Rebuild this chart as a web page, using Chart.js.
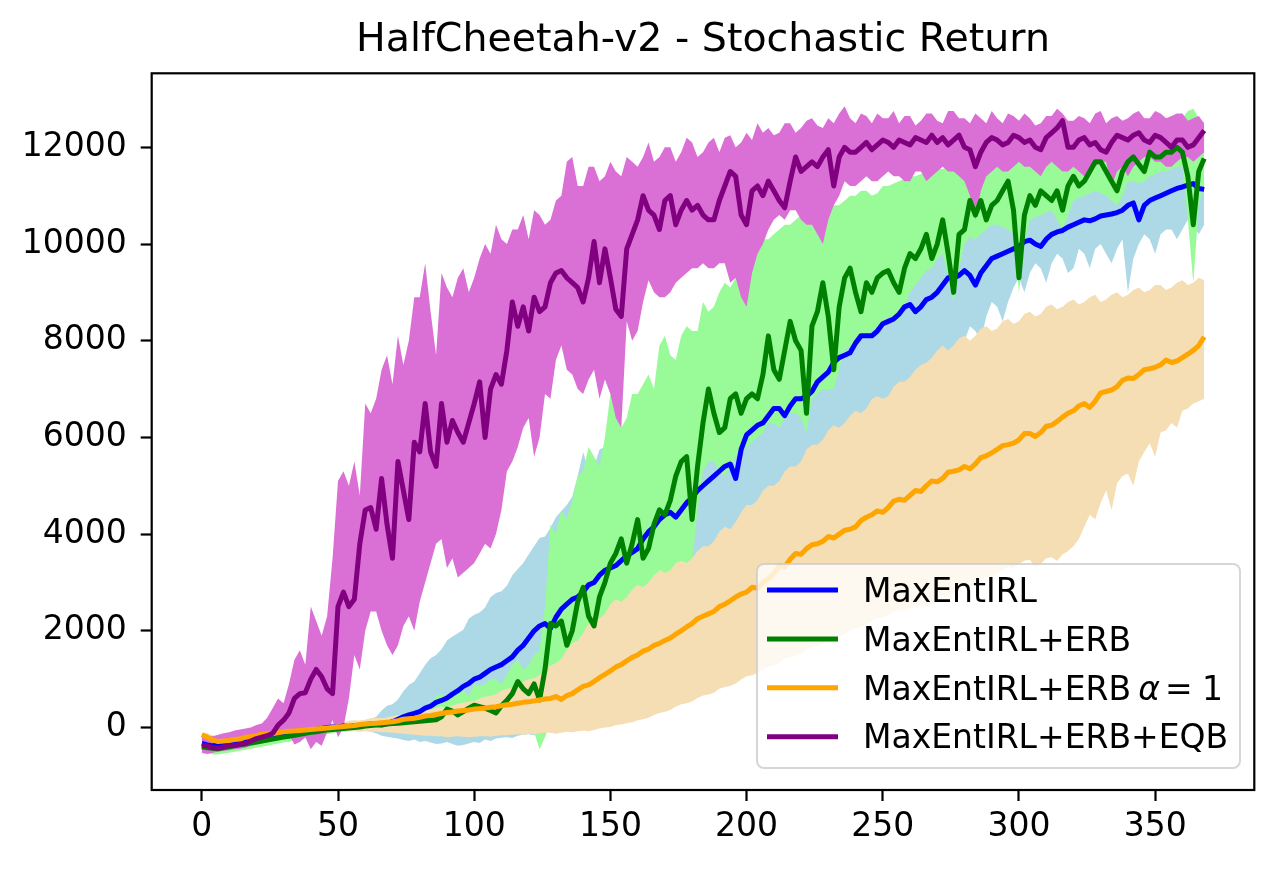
<!DOCTYPE html>
<html>
<head>
<meta charset="utf-8">
<script src="https://cdn.jsdelivr.net/npm/chart.js@4.4.0/dist/chart.umd.min.js"></script>
<style>
html,body{margin:0;padding:0;background:#fff;}
canvas{display:block;}
</style>
</head>
<body>
<canvas id="c" width="1280" height="870" style="width:1280px;height:870px"></canvas>
<script>
// ---------------- data ----------------
const chartTitle = 'HalfCheetah-v2 - Stochastic Return';
const seriesNames = ['MaxEntIRL', 'MaxEntIRL+ERB', 'MaxEntIRL+ERB α = 1', 'MaxEntIRL+ERB+EQB'];
const xTicks = [0, 50, 100, 150, 200, 250, 300, 350];
const yTicks = [0, 2000, 4000, 6000, 8000, 10000, 12000];

const steps = [
  0,2,4,6,8,10,12,14,16,18,20,22,24,26,28,30,32,34,36,38,
  40,42,44,46,48,50,52,54,56,58,60,62,64,66,68,70,72,74,76,78,
  80,82,84,86,88,90,92,94,96,98,100,102,104,106,108,110,112,114,116,118,
  120,122,124,126,128,130,132,134,136,138,140,142,144,146,148,150,152,154,156,158,
  160,162,164,166,168,170,172,174,176,178,180,182,184,186,188,190,192,194,196,198,
  200,202,204,206,208,210,212,214,216,218,220,222,224,226,228,230,232,234,236,238,
  240,242,244,246,248,250,252,254,256,258,260,262,264,266,268,270,272,274,276,278,
  280,282,284,286,288,290,292,294,296,298,300,302,304,306,308,310,312,314,316,318,
  320,322,324,326,328,330,332,334,336,338,340,342,344,346,348,350,352,354,356,358,
  360,362,364,366,368];

// MaxEntIRL (blue)
const blueMean = [
  -330,-360,-380,-350,-360,-330,-320,-310,-290,-260,-250,-240,-210,-200,-170,-140,-130,-120,-90,-80,
  -50,-40,-20,0,10,0,30,20,40,30,60,70,60,50,80,120,170,220,260,290,
  330,400,440,520,560,610,690,760,850,910,1000,1040,1120,1200,1250,1300,1380,1460,1600,1700,
  1850,2000,2100,2150,2050,2280,2450,2550,2650,2700,2800,2950,3000,3150,3250,3300,3350,3450,3550,3620,
  3700,3900,4050,4150,4300,4400,4450,4350,4500,4650,4750,4900,5000,5100,5200,5300,5400,5450,5150,5750,
  6050,6150,6250,6300,6450,6600,6600,6450,6650,6800,6800,6850,6950,7150,7250,7350,7550,7650,7700,7750,
  7950,8100,8100,8100,8200,8350,8400,8450,8550,8700,8750,8600,8700,8850,8900,9000,9150,9300,9300,9350,
  9450,9350,9150,9400,9550,9700,9750,9800,9850,9900,9950,10050,10080,10000,9950,10100,10200,10250,10280,10350,
  10400,10450,10500,10480,10520,10580,10600,10620,10650,10700,10800,10850,10500,10800,10900,10950,11000,11050,11100,11150,
  11180,11220,11250,11150,11130];
const blueUpper = [
  -230,-250,-280,-260,-270,-250,-240,-220,-210,-180,-170,-150,-130,-110,-100,-70,-60,-40,-30,-10,
  0,20,30,50,60,80,90,110,120,140,150,180,220,350,450,480,580,750,880,950,
  1120,1300,1430,1500,1620,1800,1880,1950,2020,2250,2330,2380,2480,2700,2780,2820,2930,3150,3280,3400,
  3580,3750,3920,3950,4130,4350,4480,4600,4780,5200,5700,5300,5400,5750,5800,5600,5900,5850,6000,6150,
  6300,6400,6500,6650,6800,6900,7000,7150,7300,7400,7500,7650,7800,7900,8000,8150,8300,8400,8500,8600,
  8700,8850,9000,9100,9200,9300,9400,9500,9600,9700,9800,9850,9900,10000,10100,10200,10300,10350,10400,10500,
  10600,10650,10700,10750,10800,10850,10900,10950,11000,11050,11100,11150,11200,11250,11300,11350,11400,11450,11500,11520,
  11550,11580,11600,11620,11650,11680,11700,11720,11750,11780,11800,11820,11850,11850,11850,11880,11900,11920,11950,11980,
  12000,12000,12000,12020,12050,12080,12100,12100,12100,12120,12150,12150,12150,12180,12200,12200,12200,12220,12250,12250,
  12250,12280,12300,12280,12250];
const blueLower = [
  -450,-480,-500,-470,-480,-450,-440,-420,-400,-380,-360,-340,-310,-300,-270,-250,-230,-210,-190,-170,
  -150,-130,-110,-90,-80,-60,-50,-40,-30,-40,-60,-90,-120,-170,-190,-210,-230,-260,-280,-250,
  -300,-280,-310,-340,-330,-300,-340,-380,-360,-330,-300,-320,-250,-280,-230,-210,-200,-220,-170,-150,
  -140,-160,-100,-50,0,150,300,450,600,750,900,1050,1200,1350,1500,1650,1800,1900,2000,2100,
  2200,2300,2400,2500,2600,2700,2800,2850,2900,2950,3000,3100,3200,3300,3400,3500,3600,3700,3800,3900,
  4000,4100,4200,4300,4400,4500,4600,4700,4800,4900,5000,5100,5200,5300,5400,5500,5600,5700,5800,5900,
  6000,6100,6200,6300,6400,6500,6600,6700,6800,6900,7000,7100,7200,7300,7400,7500,7600,7700,7800,7900,
  8000,8300,8200,8000,8500,8800,8700,8400,8800,9100,9300,9000,9400,9600,9500,9200,9600,9800,9700,9400,
  9500,9900,9800,9500,9900,10000,9800,9600,9900,10100,9000,9700,10000,10200,10100,9800,10200,10300,10300,10100,
  10300,10500,10400,10200,10400];

// MaxEntIRL+ERB (green)
const greenMean = [
  -400,-420,-430,-440,-420,-400,-380,-360,-340,-320,-300,-280,-260,-240,-220,-200,-180,-160,-140,-120,
  -100,-90,-70,-50,-40,-30,-20,-10,0,10,30,40,50,60,70,80,90,100,110,120,
  130,140,150,160,220,380,340,260,330,400,460,430,400,350,300,450,560,700,950,800,
  700,900,570,1200,2150,2100,2200,1700,2000,2600,2900,2300,2100,2700,3000,3400,3600,3900,3400,3800,
  4300,3500,3700,4200,4500,4400,4700,5200,5500,5600,4300,5400,6300,7000,6500,6100,6200,6800,6900,6500,
  6800,6900,6800,7300,8100,7400,7200,7800,8400,8000,7800,6500,8300,8600,9200,8500,7400,8700,9300,9500,
  9000,8600,9200,9000,9300,9400,9450,9200,9000,9500,9800,9700,9900,10200,9700,10000,10500,9800,9000,10200,
  10300,10900,10600,10900,10500,10800,10900,11100,11300,10700,9300,10600,11000,10800,11100,11000,10900,11100,10700,11200,
  11400,11200,11300,11500,11700,11700,11500,11300,11100,11500,11700,11800,11650,11500,11900,11800,11800,11900,11900,12000,
  11900,11400,10400,11500,11770];
const greenUpper = [
  -300,-330,-350,-340,-330,-310,-300,-280,-270,-250,-230,-210,-190,-170,-150,-130,-110,-90,-70,-50,
  -30,-10,0,20,30,50,60,70,80,100,110,130,140,160,170,190,200,230,250,300,
  350,450,500,650,700,600,750,800,800,650,900,850,900,1000,1000,900,1100,1300,1400,1200,
  1300,1500,1600,2500,4200,4000,4500,4300,4700,5200,5300,5800,5600,5400,6000,6900,6700,6200,6400,6900,
  6900,7100,7300,7000,7900,8100,7700,7600,8100,8300,8200,8200,8800,8600,8700,9000,9200,9100,9300,9600,
  9700,9800,9900,10100,10100,10200,10300,10400,10400,10500,10600,10500,10500,10700,10700,10800,10800,10800,10900,11000,
  11000,11100,11100,11000,11050,11200,11200,11250,11300,11350,11400,11400,11450,11500,11500,11550,11550,11600,11600,11650,
  11700,11650,11650,11700,11750,11800,11800,11800,11850,11900,11900,11950,11950,11900,11900,11950,12000,12000,12050,12100,
  12100,12150,12150,12200,12200,12250,12250,12200,12200,12250,12300,12300,12350,12400,12400,12450,12450,12500,12500,12550,
  12600,12750,12800,12600,12400];
const greenLower = [
  -500,-530,-560,-560,-540,-520,-500,-480,-460,-440,-420,-400,-380,-350,-330,-310,-290,-270,-250,-220,
  -200,-180,-160,-140,-120,-100,-90,-80,-60,-50,-40,-30,-20,-10,0,10,20,30,40,50,
  60,70,80,90,100,110,120,130,150,160,170,160,150,170,200,220,250,280,300,250,
  200,-100,-450,-200,100,250,400,550,700,850,1000,1200,1400,1550,1700,1850,2000,2150,2300,2450,
  2600,2700,2800,2900,3000,3100,3200,3250,3300,3350,3400,4500,5300,5500,5500,5300,5200,5400,5600,5700,
  5800,5900,6000,6100,6300,6300,6200,6400,6500,6500,6400,6100,6800,6900,7000,7000,7000,7400,7800,7900,
  8000,8050,8100,8200,8300,8400,8500,8450,8400,8700,9000,9150,9300,9450,9500,9700,9800,9300,8800,9500,
  10000,10150,10100,10200,10300,10400,10400,10350,10300,10200,9000,10000,10500,10550,10600,10650,10700,10500,10300,10600,
  10900,10950,11000,11050,11100,11050,11000,10900,10800,11000,11300,11300,11250,11300,11400,11450,11500,11500,11550,11600,
  11600,10500,9200,10800,11300];

// MaxEntIRL+ERB alpha=1 (orange)
const orangeMean = [
  -150,-200,-260,-290,-280,-270,-250,-240,-200,-190,-170,-140,-130,-130,-110,-90,-80,-70,-60,-50,
  -40,-30,-20,-10,0,10,20,30,40,60,70,80,90,100,110,120,140,170,180,190,
  210,240,250,270,290,310,320,340,350,360,380,390,400,420,430,450,470,480,500,520,
  530,550,570,590,600,640,580,660,700,780,850,880,950,1030,1100,1170,1250,1300,1380,1450,
  1500,1580,1620,1700,1740,1800,1850,1930,2000,2080,2150,2250,2300,2350,2400,2500,2550,2620,2700,2760,
  2800,2900,2880,3000,3080,3180,3350,3320,3480,3600,3580,3700,3780,3800,3850,3950,3920,4000,4080,4100,
  4150,4280,4350,4400,4480,4450,4550,4680,4720,4700,4800,4900,4880,5000,5100,5080,5150,5280,5300,5330,
  5400,5350,5450,5580,5620,5680,5750,5830,5850,5880,5950,6080,6080,6020,6100,6230,6250,6330,6420,6500,
  6550,6650,6700,6620,6750,6920,6950,6980,7050,7180,7230,7220,7300,7400,7420,7450,7500,7600,7550,7580,
  7650,7720,7800,7900,8080];
const orangeUpper = [
  -100,-120,-160,-190,-170,-160,-150,-130,-100,-110,-80,-50,-30,-40,-20,0,30,20,40,60,
  70,60,70,100,110,100,110,140,150,140,160,190,200,190,210,240,260,250,280,310,
  340,350,370,410,430,420,450,490,510,530,550,600,640,650,690,760,800,820,860,950,
  1000,1020,1080,1200,1280,1330,1420,1600,1750,1800,1950,2150,2250,2250,2350,2550,2650,2600,2700,2850,
  2950,2900,3000,3150,3250,3200,3250,3400,3450,3400,3500,3650,3750,3750,3850,4050,4150,4100,4250,4450,
  4600,4600,4700,4900,5000,5000,5100,5300,5400,5400,5500,5750,5850,5850,5950,6150,6250,6200,6300,6450,
  6550,6500,6600,6800,6850,6800,6850,7050,7150,7150,7250,7400,7500,7550,7650,7800,7900,7800,7900,8050,
  8100,8000,8100,8250,8300,8200,8250,8400,8450,8350,8400,8550,8600,8500,8550,8700,8750,8650,8700,8800,
  8850,8750,8800,8900,8950,8800,8850,8950,9000,8900,8950,9050,9100,9000,9050,9150,9150,9050,9100,9200,
  9250,9150,9200,9300,9250];
const orangeLower = [
  -350,-380,-400,-420,-400,-390,-370,-350,-330,-310,-290,-270,-250,-240,-220,-200,-190,-170,-160,-150,
  -140,-130,-120,-110,-100,-100,-90,-80,-80,-90,-80,-90,-90,-100,-100,-110,-120,-130,-140,-150,
  -160,-170,-170,-180,-180,-200,-190,-180,-190,-200,-190,-180,-180,-190,-170,-160,-160,-150,-140,-150,
  -130,-140,-120,-110,-110,-130,-110,-90,-100,-80,-70,-80,-50,-20,0,10,50,60,90,110,
  150,170,200,260,300,320,360,430,480,500,540,610,660,680,720,800,840,860,910,990,
  1060,1080,1130,1210,1260,1280,1330,1420,1460,1480,1530,1620,1660,1680,1730,1820,1860,1880,1930,2010,
  2060,2080,2130,2210,2260,2280,2330,2400,2430,2400,2460,2510,2520,2490,2580,2660,2720,2700,2780,2860,
  2920,2900,2980,3060,3120,3100,3180,3260,3320,3300,3380,3450,3470,3300,3380,3500,3520,3450,3580,3650,
  3750,3900,4150,4400,4300,4650,4900,4500,5050,5200,5250,5000,5500,5700,5880,5600,6100,6150,6300,6200,
  6550,6600,6700,6750,6800];

// MaxEntIRL+ERB+EQB (purple)
const purpleMean = [
  -370,-380,-420,-430,-400,-380,-370,-350,-330,-280,-230,-200,-170,-120,50,150,300,600,700,720,
  1000,1200,1050,800,700,2500,2800,2500,2650,3800,4500,4550,4100,5150,4200,3500,5500,4900,4300,5900,
  5700,6700,5700,5400,6700,5900,6350,6100,5900,6300,6700,7150,6000,7000,7300,7100,7800,8800,8300,8700,
  8200,8900,8600,8700,9200,9400,9450,9300,9200,9100,8800,9300,10050,9200,9900,9300,8650,8500,9900,10200,
  10500,11000,10700,10600,10300,10900,11000,10400,10700,10900,10700,10800,10600,10500,10500,10900,11200,11500,11400,10600,
  10400,11100,11200,11000,11300,11100,10900,10750,11300,11800,11500,11600,11700,11600,11800,11950,11200,11800,12000,11900,
  11900,12000,12100,11950,12050,12150,12100,12000,12150,12100,12050,12200,12150,12100,12250,12100,12200,12050,12150,12250,
  12000,11950,11600,11900,12100,12200,12150,12050,12100,12250,12200,12100,12150,12000,11950,12200,12300,12400,12550,12000,
  12000,12150,12200,12050,12100,11950,11900,12100,12250,12200,12150,12250,12300,12150,12100,12250,12200,12100,12000,12150,
  12150,12000,12050,12200,12350];
const purpleUpper = [
  -200,-170,-180,-150,-120,-100,-60,-40,-20,0,50,80,200,400,600,500,900,1400,1600,1300,
  2500,2200,1900,2300,3500,5100,5300,5000,5500,4800,6700,6500,6800,7400,7700,7100,8100,7500,8000,8900,
  8900,9600,8600,7700,9400,9100,8900,9300,9500,9000,9300,9700,10000,9800,10400,10100,10000,10300,10300,10600,
  10100,10700,10600,10400,10500,10900,11000,11700,11800,11200,11200,11600,11600,11300,11400,11700,11500,11400,11800,11700,
  11600,11800,12100,11700,11800,12000,12000,11700,11900,12200,12100,11800,11900,12100,12200,11900,12200,12250,12000,12100,
  12300,12150,12500,12300,12400,12250,12300,12500,12500,12300,12400,12550,12600,12450,12400,12600,12500,12700,12850,12600,
  12500,12700,12650,12500,12700,12600,12600,12750,12500,12650,12650,12450,12550,12700,12700,12550,12500,12750,12750,12600,
  12600,12500,12700,12600,12500,12750,12600,12500,12700,12650,12550,12700,12600,12450,12500,12650,12650,12800,12700,12550,
  12550,12650,12600,12500,12700,12750,12500,12600,12650,12550,12600,12700,12750,12600,12600,12750,12700,12600,12650,12700,
  12700,12550,12600,12650,12500];
const purpleLower = [
  -530,-550,-520,-500,-480,-470,-450,-440,-420,-380,-350,-330,-300,-250,-200,-180,-150,-350,-300,-200,
  -450,-300,-380,-100,150,-200,0,600,1500,1200,2000,2400,2400,2000,1700,1500,1700,2100,2300,2000,
  2600,3000,3400,3800,3900,3300,3500,3100,3200,3300,3400,3600,3800,3700,4000,4500,5300,5500,5800,6200,
  6400,5600,6000,6900,6800,7600,7900,7400,7300,7000,6900,7200,7400,6800,7200,6900,6400,6200,8400,8000,
  8200,8800,9250,9000,8900,8900,9000,9200,9300,9400,9500,9500,9600,9500,9500,9600,9600,9200,9300,8900,
  8700,9400,9800,10000,10300,10500,10600,10500,10700,10700,10500,10400,10400,10200,10000,10500,10800,11000,11300,11200,
  11200,11300,11400,11300,11300,11400,11500,11400,11400,11300,11300,11500,11500,11300,11400,11500,11600,11500,11500,11400,
  11300,11000,10500,11100,11400,11500,11600,11500,11500,11600,11700,11600,11600,11500,11400,11600,11700,11600,11500,11500,
  11600,11500,11400,11500,11600,11700,11700,11200,11500,11600,11400,11600,11700,11800,11800,11700,11700,11600,11600,11700,
  11800,11800,11700,11800,11900];

// ---------------- styles ----------------
const FONT = 'DejaVu Sans';
const lineColors = ['#0000ff', '#008000', '#ffa500', '#800080'];
const bandColors = ['#add8e6', '#98fb98', '#f5deb3', '#da70d6'];
const LW = 5;

const pts = arr => steps.map((x, i) => ({x: x, y: arr[i]}));

const means = [blueMean, greenMean, orangeMean, purpleMean];
const uppers = [blueUpper, greenUpper, orangeUpper, purpleUpper];
const lowers = [blueLower, greenLower, orangeLower, purpleLower];

const datasets = [];
for (let s = 0; s < 4; s++) {
  const upIdx = datasets.length;
  datasets.push({
    data: pts(uppers[s]), fill: upIdx + 1, backgroundColor: bandColors[s],
    borderColor: 'rgba(0,0,0,0)', borderWidth: 1, pointRadius: 0, order: 20 - s
  });
  datasets.push({
    data: pts(lowers[s]), fill: false,
    borderColor: 'rgba(0,0,0,0)', borderWidth: 1, pointRadius: 0, order: 20 - s
  });
}
for (let s = 0; s < 4; s++) {
  datasets.push({
    label: seriesNames[s], data: pts(means[s]), fill: false,
    borderColor: lineColors[s], borderWidth: LW, pointRadius: 0,
    borderJoinStyle: 'round', borderCapStyle: 'butt', order: 3 - s
  });
}

const framePlugin = {
  id: 'frame',
  afterDatasetsDraw(chart) {
    const {ctx, chartArea: a} = chart;
    ctx.save();
    ctx.strokeStyle = '#000';
    ctx.lineWidth = 2.2;
    ctx.strokeRect(a.left, a.top, a.right - a.left, a.bottom - a.top);
    ctx.restore();
  }
};

const legendPlugin = {
  id: 'mplLegend',
  afterDraw(chart) {
    const {ctx, chartArea: a} = chart;
    const fs = 33;
    const right = a.right - 14.3, bottom = a.bottom - 22;
    const w = 483, h = 204;
    const left = right - w, top = bottom - h;
    const r = 7;
    ctx.save();
    ctx.beginPath();
    ctx.moveTo(left + r, top);
    ctx.arcTo(right, top, right, bottom, r);
    ctx.arcTo(right, bottom, left, bottom, r);
    ctx.arcTo(left, bottom, left, top, r);
    ctx.arcTo(left, top, right, top, r);
    ctx.closePath();
    ctx.fillStyle = 'rgba(255,255,255,0.8)';
    ctx.fill();
    ctx.strokeStyle = 'rgba(204,204,204,0.8)';
    ctx.lineWidth = 2;
    ctx.stroke();

    const rowH = 48.9;
    for (let i = 0; i < seriesNames.length; i++) {
      const y = top + 26 + i * rowH;
      ctx.beginPath();
      ctx.strokeStyle = lineColors[i];
      ctx.lineWidth = LW;
      ctx.lineCap = 'butt';
      ctx.moveTo(left + 10, y);
      ctx.lineTo(left + 81, y);
      ctx.stroke();

      ctx.fillStyle = '#000';
      ctx.textBaseline = 'alphabetic';
      ctx.textAlign = 'left';
      const tx = left + 106, ty = y + 11.7;
      const name = seriesNames[i];
      const ai = name.indexOf('α');
      ctx.font = fs + 'px "' + FONT + '"';
      if (ai < 0) {
        ctx.fillText(name, tx, ty);
      } else {
        const before = name.slice(0, ai).trimEnd();
        const after = name.slice(ai + 1).trim().split(/\s+/);
        ctx.fillText(before, tx, ty);
        let cx = tx + ctx.measureText(before).width + 0.22 * fs;
        ctx.font = 'italic ' + fs + 'px "' + FONT + '"';
        ctx.fillText('α', cx, ty);
        cx += ctx.measureText('α').width + 0.15 * fs;
        ctx.font = fs + 'px "' + FONT + '"';
        for (const part of after) {
          ctx.fillText(part, cx, ty);
          cx += ctx.measureText(part).width + 0.28 * fs;
        }
      }
    }
    ctx.restore();
  }
};

const tickFont = {family: FONT, size: 33};

new Chart(document.getElementById('c'), {
  type: 'line',
  data: {datasets: datasets},
  options: {
    responsive: false,
    animation: false,
    devicePixelRatio: 1,
    layout: {padding: {left: 0, right: 25.7, top: 0, bottom: 0}},
    plugins: {
      legend: {display: false},
      tooltip: {enabled: false},
      filler: {drawTime: 'beforeDatasetsDraw', propagate: false},
      title: {
        display: true, text: chartTitle, color: '#000', fullSize: false,
        font: {family: FONT, size: 39.5, weight: 'normal'},
        padding: {top: 16.6, bottom: 9.3}
      }
    },
    scales: {
      x: {
        type: 'linear', min: -18.4, max: 386.4,
        afterBuildTicks: s => { s.ticks = xTicks.map(v => ({value: v})); },
        afterFit: s => { s.height = 80; },
        grid: {display: true, drawOnChartArea: false, drawTicks: true, tickLength: 11, tickColor: '#000', tickWidth: 2.2},
        border: {display: false},
        ticks: {color: '#000', font: tickFont, padding: 7, maxRotation: 0, autoSkip: false, callback: v => String(v)}
      },
      y: {
        type: 'linear', min: -1293, max: 13531,
        afterBuildTicks: s => { s.ticks = yTicks.map(v => ({value: v})); },
        afterFit: s => { s.width = 151.7; },
        grid: {display: true, drawOnChartArea: false, drawTicks: true, tickLength: 11, tickColor: '#000', tickWidth: 2.2},
        border: {display: false},
        ticks: {color: '#000', font: tickFont, padding: 14, autoSkip: false, callback: v => String(v)}
      }
    }
  },
  plugins: [framePlugin, legendPlugin]
});
</script>
</body>
</html>
